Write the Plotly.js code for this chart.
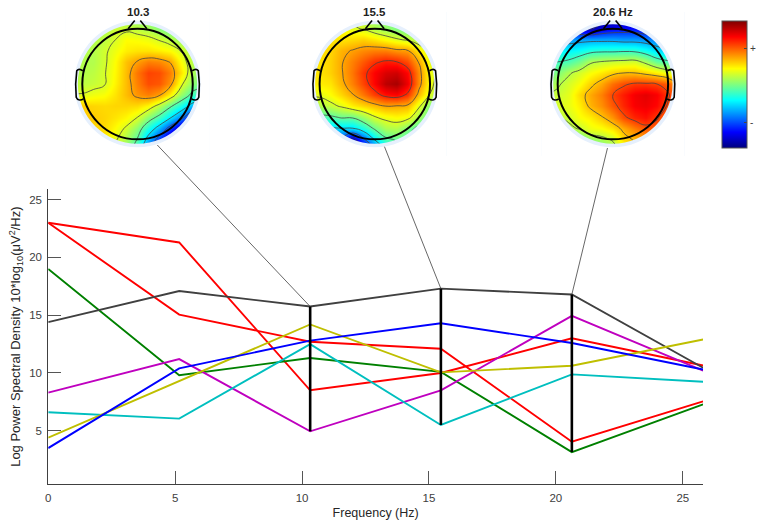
<!DOCTYPE html>
<html><head><meta charset="utf-8">
<script src="https://cdn.plot.ly/plotly-3.0.0.min.js"></script>
<style>html,body{margin:0;padding:0;background:#fff}</style></head>
<body><div id="chart" style="width:759px;height:527px"></div>
<script>
const freqs = [0, 5.16, 10.32, 15.47, 20.63, 25.8];
const redA    = [23, 21.3, 8.5, 10, 13, 10.65];
const redB    = [23, 15.05, 12.7, 12.1, 4.05, 7.55];
const green   = [19, 9.8, 11.3, 10.1, 3.15, 7.28];
const grayS   = [14.4, 17.1, 15.75, 17.3, 16.8, 10.45];
const magenta = [8.3, 11.2, 4.95, 8.5, 14.95, 10.2];
const cyan    = [6.6, 6.05, 12.5, 5.5, 9.88, 9.24];
const yellow  = [4.4, 9.3, 14.2, 10.05, 10.63, 12.9];
const blue    = [3.5, 10.4, 12.8, 14.3, 12.6, 10.3];
const seriesList = [[redA,'#ff0000'],[redB,'#ff0000'],[green,'#008000'],[grayS,'#404040'],
                    [magenta,'#bf00bf'],[cyan,'#00bfbf'],[yellow,'#bfbf00'],[blue,'#0000ff']];
const peakIdx = [2, 3, 4];
const mapLabels = ['10.3', '15.5', '20.6 Hz'];
const gridAxis = [-1.2,-1,-.8,-.6,-.4,-.2,0,.2,.4,.6,.8,1,1.2];
// rows run from y = -1.2 (back of head) to y = 1.2 (nose)
const map1 = [
[.3,.3,.28,.25,.15,.02,-.2,-.55,-.8,-1,-1,-1,-1],
[.32,.32,.3,.28,.2,.08,-.08,-.4,-.65,-.9,-1,-1,-1],
[.34,.34,.33,.32,.25,.16,.02,-.2,-.4,-.65,-.9,-1,-1],
[.36,.36,.35,.33,.3,.26,.18,.02,-.12,-.3,-.5,-.8,-.9],
[.34,.34,.33,.32,.33,.33,.32,.26,.12,-.05,-.2,-.4,-.5],
[.19,.19,.22,.24,.3,.38,.46,.5,.44,.27,.05,-.12,-.18],
[.12,.12,.14,.17,.27,.38,.5,.6,.58,.46,.2,.02,-.02],
[.1,.1,.12,.17,.26,.38,.52,.62,.6,.5,.3,.08,.05],
[.1,.1,.1,.16,.25,.37,.44,.5,.48,.42,.24,.1,.05],
[.1,.1,.1,.16,.22,.28,.3,.3,.28,.25,.17,.08,.04],
[.08,.08,.1,.12,.18,.25,.24,.22,.17,.12,.05,0,-.02],
[.08,.08,.1,.1,.15,.15,.12,.08,.02,-.05,-.05,-.05,-.05],
[.05,.05,.05,.05,.05,.05,.03,0,-.03,-.03,-.03,-.03,-.03]];
const map2 = [
[-.9,-.9,-.9,-.9,-1,-.85,-.6,-.35,-.2,-.2,-.4,-.55,-.6],
[-.7,-.7,-.65,-.65,-.9,-.6,-.3,-.1,-.05,-.1,-.25,-.4,-.5],
[-.4,-.38,-.34,-.32,-.32,-.2,-.04,.08,.1,0,-.12,-.25,-.35],
[-.15,-.12,-.1,-.05,-.05,.05,.17,.22,.25,.22,.08,-.1,-.2],
[.1,.1,.14,.2,.28,.33,.38,.43,.42,.4,.2,0,-.05],
[.2,.2,.25,.33,.42,.52,.63,.72,.75,.65,.38,.17,.07],
[.28,.28,.3,.4,.5,.62,.75,.88,.92,.78,.48,.22,.1],
[.3,.3,.34,.42,.52,.65,.75,.82,.84,.74,.48,.22,.12],
[.3,.3,.34,.42,.5,.58,.66,.7,.68,.6,.42,.2,.1],
[.3,.3,.33,.4,.44,.48,.5,.5,.46,.44,.3,.12,.05],
[.3,.3,.3,.3,.32,.34,.3,.25,.2,.16,.08,0,-.03],
[.26,.26,.26,.24,.2,.17,.1,.05,0,-.05,-.08,-.08,-.08],
[.2,.2,.2,.2,.15,.1,.05,0,-.05,-.1,-.1,-.1,-.1]];
const map3 = [
[-.36,-.36,-.26,-.21,-.16,-.06,.04,.19,.29,.34,.34,.3,.3],
[-.16,-.16,-.11,-.06,.04,.08,.14,.32,.39,.44,.44,.39,.34],
[0,.02,.08,.14,.22,.24,.3,.41,.5,.58,.56,.46,.38],
[.09,.1,.16,.24,.28,.36,.46,.6,.68,.72,.64,.52,.44],
[.13,.17,.21,.28,.4,.47,.58,.68,.76,.78,.74,.6,.46],
[.12,.15,.2,.32,.42,.5,.62,.7,.77,.8,.76,.64,.48],
[.06,.1,.17,.24,.34,.42,.53,.6,.64,.64,.62,.56,.36],
[-.04,0,.1,.17,.24,.29,.34,.37,.37,.33,.28,.2,.12],
[-.14,-.13,-.1,-.02,.1,.13,.15,.16,.17,.08,-.05,-.1,-.14],
[-.28,-.26,-.26,-.23,-.18,-.16,-.16,-.15,-.16,-.22,-.3,-.36,-.38],
[-.5,-.47,-.45,-.43,-.42,-.42,-.42,-.44,-.44,-.46,-.5,-.55,-.55],
[-.9,-.85,-.85,-.85,-.9,-.8,-.75,-.73,-.73,-.8,-.9,-.9,-.9],
[-1,-1,-1,-1,-1,-1,-1,-1,-1,-1,-1,-1,-1]];
const mapFields = [map1, map2, map3];
const contourStarts = [-.82, -.82, -.88];
const mapCentersPx = [137.7, 375.3, 613.7];
const connectorStartPx = [[157.5,145],[385,146.7],[608.3,148]];
const jet = [[0,'#00007f'],[.125,'#0000ff'],[.375,'#00ffff'],[.625,'#ffff00'],[.875,'#ff0000'],[1,'#7f0000']];

const W = 759, H = 527;
const plotL = 48.3, plotR = 704, plotT = 189.3, plotB = 484;
const yRange = [0.39, 25.9];
const headPx = 55.3, mapHalf = 1.3;
const mapCy = 84;
const px2x = p => p / W, px2y = p => 1 - p / H;
const data2xPaper = v => (plotL + (v - freqs[0]) / (freqs[5] - freqs[0]) * (plotR - plotL)) / W;
const data2yPaper = v => (H - plotB + (v - yRange[0]) / (yRange[1] - yRange[0]) * (plotB - plotT)) / H;

const circle = r => { const k = r * 0.5523;
  return `M ${r} 0 C ${r} ${k} ${k} ${r} 0 ${r} C ${-k} ${r} ${-r} ${k} ${-r} 0 C ${-r} ${-k} ${-k} ${-r} 0 ${-r} C ${k} ${-r} ${r} ${-k} ${r} 0 Z`; };
const square = `M ${-mapHalf} ${-mapHalf} L ${mapHalf} ${-mapHalf} L ${mapHalf} ${mapHalf} L ${-mapHalf} ${mapHalf} Z `;
const earR = 'M 0.99 0.24 C 1.02 0.26 1.07 0.28 1.1 0.24 C 1.12 0.1 1.12 -0.14 1.11 -0.24 C 1.09 -0.3 1.02 -0.3 0.98 -0.27';
const earL = 'M -0.99 0.24 C -1.02 0.26 -1.07 0.28 -1.1 0.24 C -1.12 0.1 -1.12 -0.14 -1.11 -0.24 C -1.09 -0.3 -1.02 -0.3 -0.98 -0.27';
const noseL = 'M -0.17 1 L -0.05 1.15';
const noseR = 'M 0.05 1.15 L 0.17 1';

const traces = seriesList.map(([y, c]) => ({x: freqs, y, type:'scatter', mode:'lines',
  line:{color:c, width:1.9}, hoverinfo:'skip', showlegend:false}));
peakIdx.forEach(i => {
  const vals = seriesList.map(s => s[0][i]);
  traces.push({x:[freqs[i],freqs[i]], y:[Math.min(...vals),Math.max(...vals)], type:'scatter', mode:'lines',
    line:{color:'#000', width:2.6}, hoverinfo:'skip', showlegend:false});
});

const layout = {
  width:W, height:H, margin:{l:0,r:0,t:0,b:0}, paper_bgcolor:'#fff', plot_bgcolor:'#fff',
  font:{family:'"Liberation Sans", Arial, sans-serif', size:11, color:'#404040'}, showlegend:false,
  xaxis:{domain:[px2x(plotL),px2x(plotR)], range:[freqs[0],freqs[5]], tickvals:[0,5,10,15,20,25], ticks:'inside', ticklen:13,
    tickcolor:'#555', tickwidth:1, showline:true, linecolor:'#404040', linewidth:1, showgrid:false, zeroline:false,
    anchor:'y', tickfont:{size:11.5,color:'#404040'}, automargin:false, ticklabelstandoff:3,
    title:{text:'Frequency (Hz)', font:{size:12.5,color:'#262626'}, standoff:5}},
  yaxis:{domain:[px2y(plotB),px2y(plotT)], range:yRange, tickvals:[5,10,15,20,25], ticks:'inside', ticklen:13,
    tickcolor:'#555', tickwidth:1, showline:true, linecolor:'#404040', linewidth:1, showgrid:false, zeroline:false,
    anchor:'x', tickfont:{size:11.5,color:'#404040'}, automargin:false, ticklabelstandoff:3,
    title:{text:'Log Power Spectral Density 10*log<sub>10</sub>(μV<sup>2</sup>/Hz)', font:{size:13,color:'#262626'}, standoff:5}},
  coloraxis:{cmin:-1, cmax:1, colorscale:jet, colorbar:{x:721.7/W, xanchor:'left', xpad:0, ypad:0, thickness:25, thicknessmode:'pixels',
    len:126.6/H, lenmode:'fraction', y:px2y(20.7), yanchor:'top', tickvals:[.564,-.61], ticktext:['+','-'], ticks:'inside', ticklen:3,
    tickcolor:'#444', outlinecolor:'#555', outlinewidth:1, tickfont:{size:10,color:'#404040'}}},
  shapes:[], annotations:[]
};

mapFields.forEach((z, m) => {
  const n = m + 2, xa = 'x'+n, ya = 'y'+n, half = mapHalf * headPx, cx = mapCentersPx[m];
  layout['xaxis'+n] = {domain:[px2x(cx-half),px2x(cx+half)], range:[-mapHalf,mapHalf], visible:false, anchor:ya, fixedrange:true};
  layout['yaxis'+n] = {domain:[px2y(mapCy+half),px2y(mapCy-half)], range:[-mapHalf,mapHalf], visible:false, anchor:xa, fixedrange:true};
  traces.push({type:'contour', x:gridAxis, y:gridAxis, z, xaxis:xa, yaxis:ya, coloraxis:'coloraxis', hoverinfo:'skip',
    autocontour:false, contours:{coloring:'heatmap', start:contourStarts[m], end:.7, size:.25, showlines:true},
    line:{color:'#444', width:0.8, smoothing:1.3}, showscale:false});
  const ref = {xref:xa, yref:ya, layer:'above'};
  layout.shapes.push(
    {...ref, type:'path', path:square+circle(1.08), fillrule:'evenodd', fillcolor:'#e6f0fd', line:{width:0}},
    {...ref, type:'path', path:square+circle(1.145), fillrule:'evenodd', fillcolor:'#ffffff', line:{width:0}},
    {...ref, type:'path', path:circle(1), line:{color:'#000',width:2}},
    {...ref, type:'path', path:earL, line:{color:'#000',width:1.6}},
    {...ref, type:'path', path:earR, line:{color:'#000',width:1.6}},
    {...ref, type:'path', path:noseL, line:{color:'#000',width:1.6}},
    {...ref, type:'path', path:noseR, line:{color:'#000',width:1.6}});
  const i = peakIdx[m];
  layout.shapes.push({type:'line', xref:'paper', yref:'paper', layer:'above',
    x0:px2x(connectorStartPx[m][0]), y0:px2y(connectorStartPx[m][1]),
    x1:data2xPaper(freqs[i]), y1:data2yPaper(Math.max(...seriesList.map(s=>s[0][i]))),
    line:{color:'#404040', width:0.8}});
  layout.annotations.push({xref:'paper', yref:'paper', x:px2x(cx), y:px2y(12), text:'<b>'+mapLabels[m]+'</b>',
    showarrow:false, font:{size:11.5,color:'#222'}, xanchor:'center', yanchor:'middle'});
});

Plotly.newPlot('chart', traces, layout, {displayModeBar:false, staticPlot:true});
</script></body></html>
